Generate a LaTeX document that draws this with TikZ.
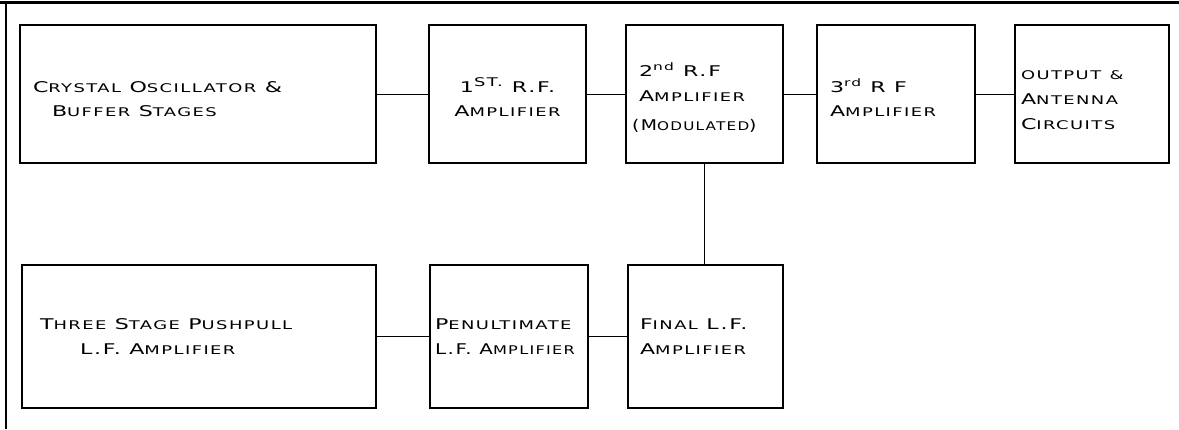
\documentclass[tikz,border=0pt]{standalone}
\usepackage{fontspec}
\setmainfont{DejaVu Sans}[LetterSpace=12,FakeStretch=1.5]
\usetikzlibrary{positioning}
\newcommand{\sk}[1]{{\fontsize{8.5}{17.7}\selectfont #1}}

\begin{document}
\begin{tikzpicture}[font=\fontsize{10.5}{17.7}\selectfont,line width=0.7pt]
\tikzset{blk/.style={draw,line width=1.4pt,align=left,inner ysep=0pt},
  rfrow/.style={blk,minimum height=3.45cm,execute at begin node={\spaceskip=6pt\relax\rule{0pt}{15pt}}},
  lfrow/.style={blk,minimum height=3.575cm,execute at begin node={\spaceskip=6pt\relax}}}
\useasboundingbox (0,0) rectangle (29.475,-10.725);
% sheet frame
\draw[line width=2pt] (0,-0.07) -- (29.475,-0.07);
\draw[line width=1.4pt] (0.15,-0.07) -- (0.15,-10.725);
% r.f. chain
\node[rfrow,text width=8.25cm,inner xsep=0.325cm] (osc) at (4.95,-2.35) {C\sk{RYSTAL} O\sk{SCILLATOR} \&\\\hspace*{0.475cm}B\sk{UFFER} S\sk{TAGES}};
\node[rfrow,align=center,text width=3.725cm,inner xsep=0.1cm] (rf1) at (12.6875,-2.35) {1\textsuperscript{\sk{ST.}} R.F.\\A\sk{MPLIFIER}};
\node[rfrow,text width=3.625cm,inner xsep=0.15cm] (rf2) at (17.6125,-2.35) {\hspace*{0.175cm}2\textsuperscript{nd} R.F\\\hspace*{0.175cm}A\sk{MPLIFIER}\\[3pt]\scalebox{0.85}[1]{(M\sk{ODULATED})}};
\node[rfrow,text width=3.3cm,inner xsep=0.325cm] (rf3) at (22.4,-2.35) {3\textsuperscript{rd} R F\\A\sk{MPLIFIER}};
\node[rfrow,text width=3.55cm,inner xsep=0.15cm] (out) at (27.3,-2.35) {\sk{OUTPUT~\&}\\A\sk{NTENNA}\\C\sk{IRCUITS}};
% l.f. chain
\node[lfrow,text width=7.95cm,inner xsep=0.45cm] (amp3) at (4.975,-8.4125) {T\sk{HREE} S\sk{TAGE} P\sk{USHPULL}\\\hspace*{1cm}L.F. A\sk{MPLIFIER}};
\node[lfrow,text width=3.7cm,inner xsep=0.125cm] (pen) at (12.725,-8.4125) {P\sk{ENULTIMATE}\\\scalebox{0.9}[1]{L.F.~A\sk{MPLIFIER}}};
\node[lfrow,text width=3.275cm,inner xsep=0.3cm] (fin) at (17.6375,-8.4125) {F\sk{INAL}~L.F.\\A\sk{MPLIFIER}};
\draw (osc) -- (rf1);
\draw (rf1) -- (rf2);
\draw (rf2) -- (rf3);
\draw (rf3) -- (out);
\draw (rf2.south) -- (rf2.south |- fin.north);
\draw (amp3) -- (pen);
\draw (pen) -- (fin);
\end{tikzpicture}
\end{document}
